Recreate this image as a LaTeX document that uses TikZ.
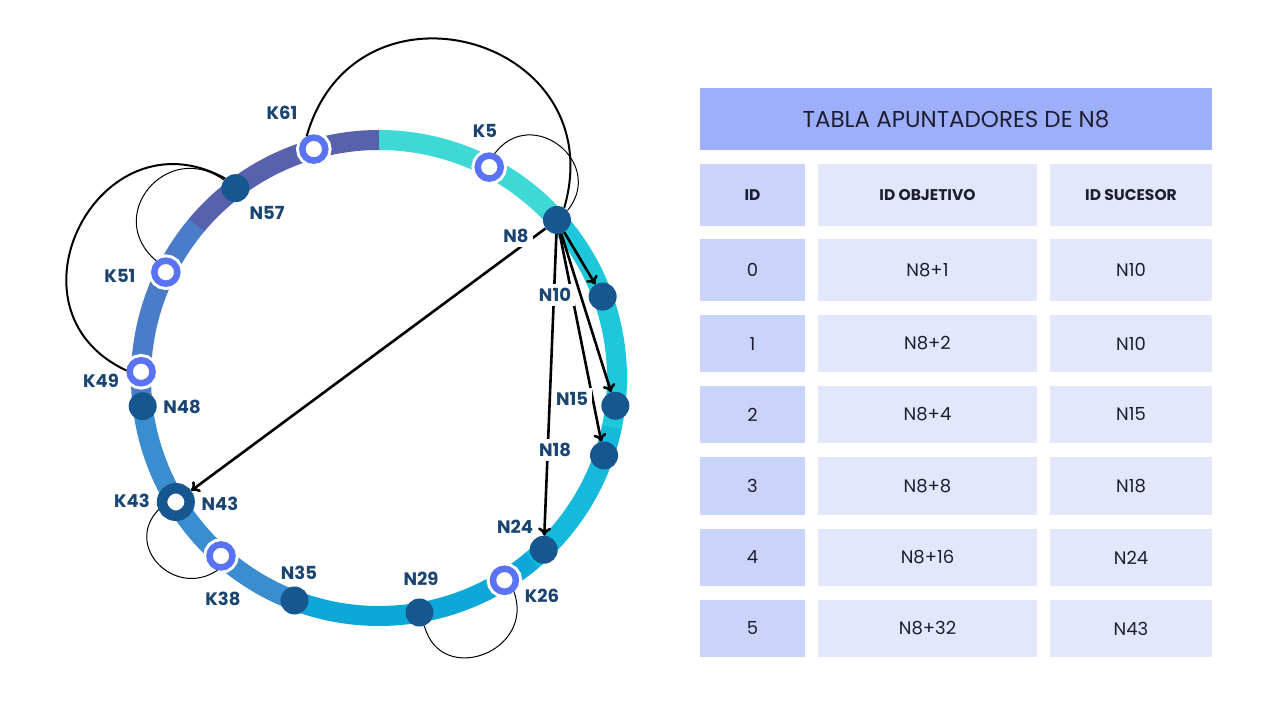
\documentclass[tikz,border=0pt]{standalone}
\usepackage{fontspec}
\setmainfont{Poppins}
\usetikzlibrary{arrows.meta}

\definecolor{ringA}{HTML}{3ED8D6}
\definecolor{ringB}{HTML}{1FC7DB}
\definecolor{ringC}{HTML}{14B9DB}
\definecolor{ringD}{HTML}{0EA8D8}
\definecolor{ringE}{HTML}{3A8ED0}
\definecolor{ringF}{HTML}{4A7CC7}
\definecolor{ringG}{HTML}{5761AE}
\definecolor{kblue}{HTML}{5A73F2}
\definecolor{ndark}{HTML}{17578F}
\definecolor{lblcol}{HTML}{1B4571}
\definecolor{titlefill}{HTML}{9DAEFB}
\definecolor{idfill}{HTML}{CAD4FA}
\definecolor{bodyfill}{HTML}{E2E7FC}
\definecolor{tabtext}{HTML}{1E1E30}

\tikzset{
  knode/.style={circle, inner sep=0pt, minimum size=23pt, draw=kblue, line width=6.5pt, fill=white,
    preaction={draw=white, line width=12.5pt}},
  nnode/.style={circle, inner sep=0pt, minimum size=28pt, fill=ndark},
  hitnode/.style={circle, inner sep=0pt, minimum size=27.5pt, draw=ndark, line width=10.5pt, fill=white},
  lbl/.style={font=\fontsize{18}{21}\selectfont\bfseries, text=lblcol, inner sep=2pt},
  cutlbl/.style={lbl, fill=white, inner sep=4pt},
  finger/.style={-{To[length=8pt,width=13pt]}, line width=2.6pt},
  bigloop/.style={line width=2pt},
  smallloop/.style={line width=1pt},
  titlebar/.style={fill=titlefill, inner sep=0pt, text=tabtext, font=\fontsize{23}{26}\selectfont},
  idcell/.style={fill=idfill, inner sep=0pt, minimum width=105pt, text=tabtext, font=\fontsize{18}{21}\selectfont},
  bodycell/.style={fill=bodyfill, inner sep=0pt, text=tabtext, font=\fontsize{18}{21}\selectfont},
  headtext/.style={font=\fontsize{15.5}{18}\selectfont\bfseries}
}

\begin{document}
\begin{tikzpicture}[x=1pt, y=1pt]
\fill[white] (0,0) rectangle (1280,720);
\useasboundingbox (0,0) rectangle (1280,720);

% the ring and its peers
\begin{scope}[shift={(379,342)}]
\foreach \a/\b/\c in {90/40.8/ringA, 41/-12.2/ringB, -12/-50.2/ringC, -50/-112.2/ringD,
                      -112/-174.2/ringE, -174/-220.2/ringF, -220/-270/ringG}
  \draw[line width=20pt, \c] (\a:238pt) arc[start angle=\a, end angle=\b, radius=238pt];
\foreach \n/\a in {N8/41.6, N10/20, N15/-6.7, N18/-19, N24/-46.2, N29/-80.2,
                   N35/-110.8, N48/-173.2, N57/127.1}
  \node[nnode] (\n) at (\a:238pt) {};
\foreach \n/\a in {K61/105.9, K5/62.4, K26/-58.2, K38/-131.6, K49/178.5, K51/153.6}
  \node[knode] (\n) at (\a:238pt) {};
\node[hitnode] (N43) at (-148.6:238pt) {};
\end{scope}

% keys handed to their successor
\draw[bigloop] (K61.119) to[out=74, in=74, looseness=1.7] (N8.59);
\draw[smallloop] (K5.68) to[out=53, in=51, looseness=1.7] (N8.42);
\draw[bigloop] (N57.137) to[out=151, in=155, looseness=1.7] (K49.175);
\draw[smallloop] (N57.145) to[out=144, in=140, looseness=1.7] (K51.130);
\draw[smallloop] (N43.204) to[out=226, in=214, looseness=1.55] (K38.256);
\draw[smallloop] (N29.290) to[out=285, in=290, looseness=1.7] (K26.310);

% finger table of N8
\foreach \t in {N10, N15, N18, N24, N43}
  \draw[finger] (N8) -- (\t);

% labels
\node[lbl] (lK61) at (282,607) {K61};
\node[lbl] (lK5) at (485,589) {K5};
\node[lbl] (lN57) at (267,507) {N57};
\node[cutlbl] (lN8) at (516,484) {N8};
\node[lbl] (lK51) at (120,444) {K51};
\node[cutlbl] (lN10) at (555,425) {N10};
\node[lbl] (lK49) at (101,339) {K49};
\node[lbl] (lN48) at (182,313) {N48};
\node[cutlbl] (lN15) at (572,321) {N15};
\node[cutlbl] (lN18) at (555,270) {N18};
\node[lbl] (lK43) at (132,219) {K43};
\node[lbl] (lN43) at (220,216) {N43};
\node[lbl] (lN24) at (515,193) {N24};
\node[lbl] (lK38) at (223,121) {K38};
\node[lbl] (lN35) at (299,147) {N35};
\node[lbl] (lN29) at (421,141) {N29};
\node[lbl] (lK26) at (542,124) {K26};

% the table
\node[titlebar, minimum width=512pt, minimum height=62pt] (title) at (956,601) {TABLA APUNTADORES DE N8};
\node[idcell, minimum height=62pt, headtext] (hid) at (752.5,525) {ID};
\node[bodycell, minimum width=219pt, minimum height=62pt, headtext] (htgt) at (927.5,525) {ID OBJETIVO};
\node[bodycell, minimum width=162pt, minimum height=62pt, headtext] (hsuc) at (1131,525) {ID SUCESOR};
\foreach \r/\yc/\h/\tgt/\suc in {0/450/62/N8+1/N10, 1/376.5/57/N8+2/N10, 2/305.5/57/N8+4/N15,
                                 3/234/58/N8+8/N18, 4/162.5/57/N8+16/N24, 5/91.5/57/N8+32/N43}{
  \node[idcell, minimum height=\h pt] (id\r) at (752.5,\yc) {\r};
  \node[bodycell, minimum width=219pt, minimum height=\h pt] (tgt\r) at (927.5,\yc) {\tgt};
  \node[bodycell, minimum width=162pt, minimum height=\h pt] (suc\r) at (1131,\yc) {\suc};
}

\end{tikzpicture}
\end{document}
